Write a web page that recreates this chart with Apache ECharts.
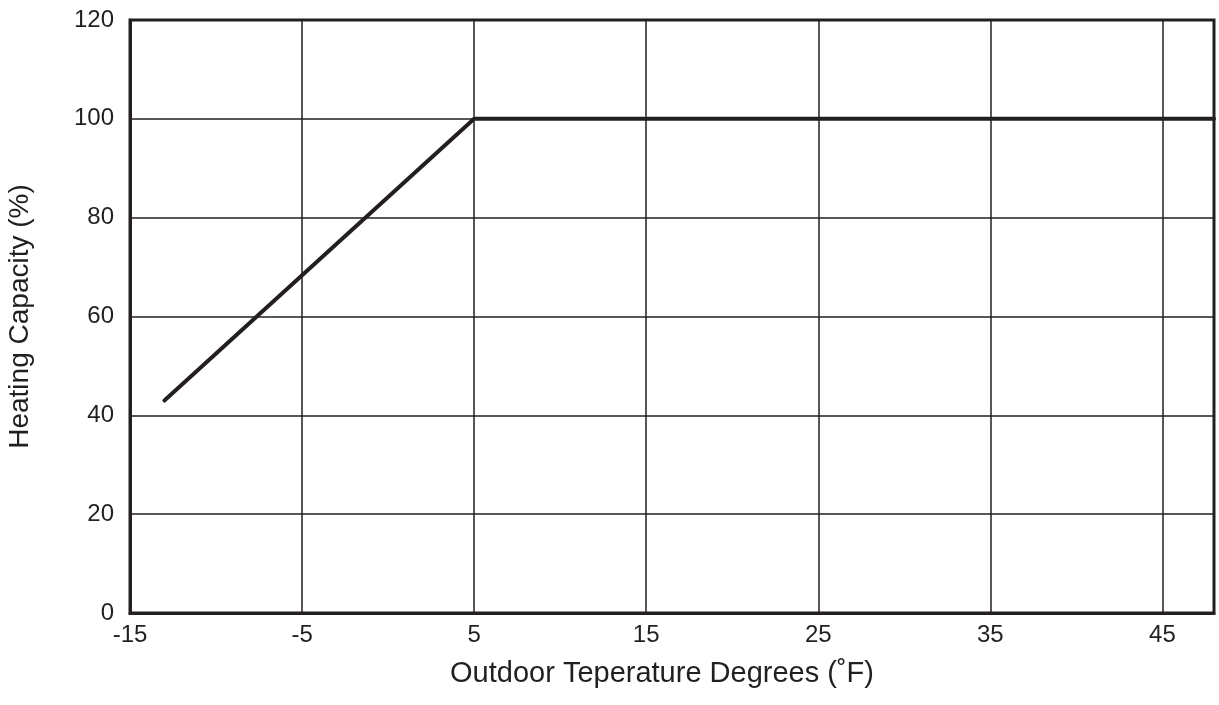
<!DOCTYPE html>
<html><head><meta charset="utf-8">
<script src="https://cdn.jsdelivr.net/npm/echarts@6/dist/echarts.min.js"></script>
<style>html,body{margin:0;padding:0;background:#fff}#c{width:1219px;height:705px}</style>
</head><body><div id="c"></div>
<script>
const xTemps = [-13, 5, 48];
const capacity = [43, 100, 100];
const xTickLabels = [-15, -5, 5, 15, 25, 35, 45];
const yTickLabels = [0, 20, 40, 60, 80, 100, 120];

const chart = echarts.init(document.getElementById('c'), null, {renderer: 'canvas'});
const ink = '#231f20';
const font = 'Liberation Sans, Arial, sans-serif';
chart.setOption({
  animation: false,
  grid: {left: 130, right: 5, top: 20, bottom: 92, containLabel: false, outerBoundsMode: 'none',
    show: true, borderColor: ink, borderWidth: 3, backgroundColor: 'transparent'},
  xAxis: {
    type: 'value', min: -15, max: 48, interval: 10,
    name: 'Outdoor Teperature Degrees (˚F)', nameLocation: 'middle', nameGap: 46,
    nameTextStyle: {fontFamily: font, fontSize: 29, color: ink, padding: [0, 20, 0, 0]},
    axisLine: {show: true, onZero: false, lineStyle: {color: ink, width: 3}},
    axisTick: {show: false},
    axisLabel: {fontFamily: font, fontSize: 24, color: ink, margin: 10, showMaxLabel: false,
      formatter: v => xTickLabels.includes(v) ? String(v) : ''},
    splitLine: {show: true, lineStyle: {color: ink, width: 1.5}}
  },
  yAxis: {
    type: 'value', min: 0, max: 120, interval: 20,
    name: 'Heating Capacity (%)', nameLocation: 'middle', nameGap: 96,
    nameTextStyle: {fontFamily: font, fontSize: 28, color: ink},
    axisLine: {show: true, onZero: false, lineStyle: {color: ink, width: 3}},
    axisTick: {show: false},
    axisLabel: {fontFamily: font, fontSize: 24, color: ink, margin: 16,
      formatter: v => yTickLabels.includes(v) ? String(v) : ''},
    splitLine: {show: true, lineStyle: {color: ink, width: 1.5}}
  },
  series: [{
    type: 'line',
    data: xTemps.map((x, i) => [x, capacity[i]]),
    symbol: 'none',
    lineStyle: {color: ink, width: 4, cap: 'round', join: 'round'},
    z: 3
  }]
});
</script></body></html>
